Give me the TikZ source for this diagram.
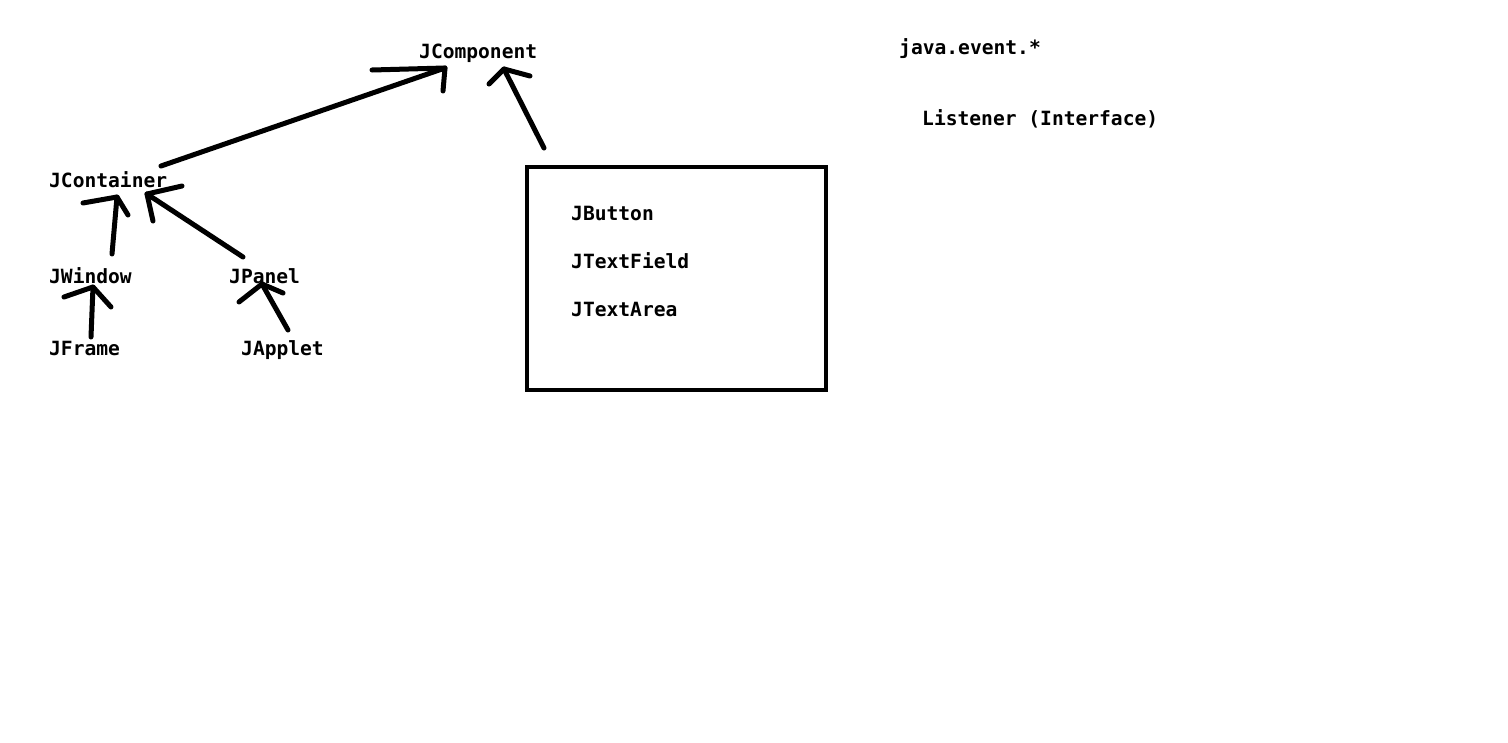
\documentclass[tikz,border=0pt]{standalone}
\usepackage{fontspec}
\setmonofont{DejaVu Sans Mono}
\begin{document}
\begin{tikzpicture}[x=1pt,y=-1pt,
  lbl/.style={anchor=base west,inner sep=0pt,font=\ttfamily\bfseries\fontsize{19.6}{24}\selectfont},
  stroke/.style={line width=5pt,line cap=round,line join=round},
  boxline/.style={line width=4.5pt}]
\fill[white] (0,0) rectangle (1508,742);
\useasboundingbox (0,0) rectangle (1508,742);
% labels
\node[lbl] (jcomp) at (419,58.5) {JComponent};
\node[lbl] (jevent) at (899,54.5) {java.event.*};
\node[lbl] (listener) at (922,125.5) {Listener (Interface)};
\node[lbl] (jcont) at (49,187.5) {JContainer};
\node[lbl] (jwin) at (49,283.5) {JWindow};
\node[lbl] (jpanel) at (229,283.5) {JPanel};
\node[lbl] (jframe) at (49,355.5) {JFrame};
\node[lbl] (japplet) at (241,355.5) {JApplet};
\node[lbl] (jbutton) at (571,220.5) {JButton};
\node[lbl] (jtf) at (571,268.5) {JTextField};
\node[lbl] (jta) at (571,316.5) {JTextArea};
% box
\draw[boxline] (527,167) rectangle (826,390);
% arrow endpoints
\coordinate (a1t) at (161,166); \coordinate (a1h) at (445,68);
\coordinate (a1l) at (372,70); \coordinate (a1r) at (443,91);
\coordinate (a2t) at (544,148); \coordinate (a2h) at (504,69);
\coordinate (a2l) at (489,84); \coordinate (a2r) at (530,76);
\coordinate (a3t) at (112,254); \coordinate (a3h) at (117,197);
\coordinate (a3l) at (83,203); \coordinate (a3r) at (128,215);
\coordinate (a4t) at (243,257); \coordinate (a4h) at (147,194);
\coordinate (a4l) at (153,221); \coordinate (a4r) at (182,186);
\coordinate (a5t) at (91,337); \coordinate (a5h) at (93,287);
\coordinate (a5l) at (64,297); \coordinate (a5r) at (111,307);
\coordinate (a6t) at (288,330); \coordinate (a6h) at (262,284);
\coordinate (a6l) at (239,302); \coordinate (a6r) at (283,293);
% arrows
\foreach \i in {1,...,6}{
  \draw[stroke] (a\i t) -- (a\i h);
  \draw[stroke] (a\i l) -- (a\i h) -- (a\i r);
}
\end{tikzpicture}
\end{document}
